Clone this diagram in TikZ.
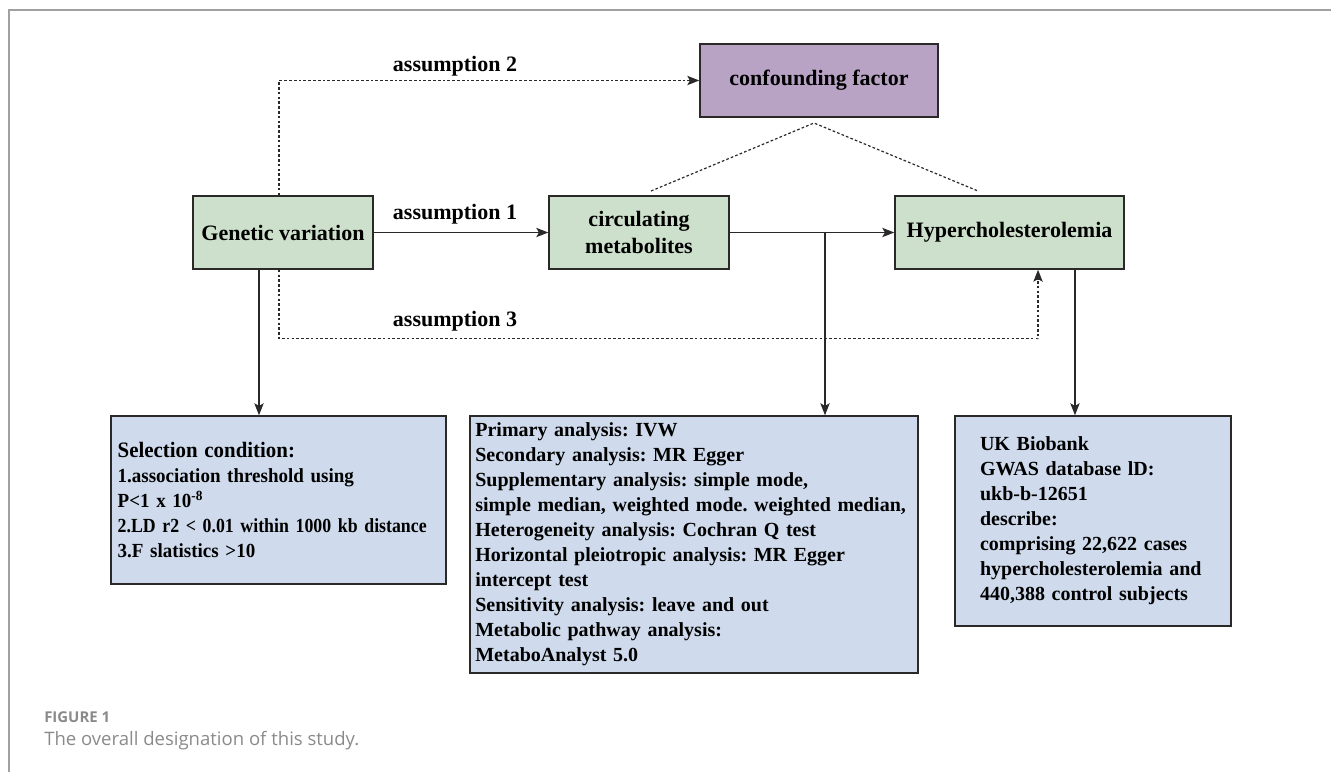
\documentclass[tikz,border=0pt]{standalone}
\usepackage{fontspec}
\setmainfont{Liberation Serif}
\newfontfamily\selfont{Liberation Serif}[FakeStretch=0.95]
\newfontfamily\narrowfont{Liberation Serif}[FakeStretch=0.89]
\newfontfamily\capfont{Open Sans}
\usetikzlibrary{arrows.meta,positioning}
\definecolor{nodegreen}{HTML}{CDE0CB}
\definecolor{nodeblue}{HTML}{CFDBEC}
\definecolor{nodepurple}{HTML}{B9A3C5}
\definecolor{linegray}{HTML}{2B2828}
\definecolor{framegray}{HTML}{A0A0A0}
\definecolor{capgray}{HTML}{8A8A8A}
\hyphenpenalty=10000
\frenchspacing

\begin{document}
\begin{tikzpicture}[x=0.75pt,y=-0.75pt,
      box/.style={draw=linegray,line width=1.1pt,align=center,
                  minimum height=54.75pt,
                  font=\fontsize{16.5pt}{20pt}\selectfont\bfseries},
      info/.style={draw=linegray,line width=1.1pt,fill=nodeblue,align=left,
                   font=\fontsize{15pt}{18.75pt}\selectfont\bfseries},
      lbl/.style={font=\fontsize{16.5pt}{20pt}\selectfont\bfseries},
      arr/.style={-{Stealth[length=9pt,width=7pt,inset=2pt]},line width=0.9pt,draw=linegray},
      dsh/.style={line width=0.9pt,draw=linegray,dash pattern=on 2pt off 1.6pt}
    ]
    \useasboundingbox (0,0) rectangle (1331,772);
    % Frame
    \draw[framegray,line width=1pt] (9,772) -- (9,10) -- (1331,10);
    % Causal chain
    \node[box, fill=nodegreen, minimum width=135pt] (gen) at (283,232.5) {Genetic variation};
    \node[box, fill=nodegreen, minimum width=135pt] (circ) at (639,232.5) {circulating\\metabolites};
    \node[box, fill=nodegreen, minimum width=171.75pt] (hyper) at (1009.5,232.5) {Hypercholesterolemia};
    \node[box, fill=nodepurple, minimum width=178.5pt] (conf) at (819,80.5) {confounding factor};
    % Detail boxes
    \node[info, minimum width=251.25pt, minimum height=126pt, inner xsep=5pt,
          text width=241.25pt, font=\selfont\fontsize{15pt}{18.75pt}\selectfont\bfseries] (sel) at (278.5,500)
      {{\fontsize{16.5pt}{20pt}\selectfont Selection condition:}\\
       1.association threshold using\\
       P<1 x 10\textsuperscript{-8}\\
       {\narrowfont 2.LD r2 < 0.01 within 1000 kb distance}\\
       3.F slatistics >10};
    \node[info, minimum width=336pt, minimum height=192.75pt, inner xsep=4pt,
          text width=328pt] (ana) at (694,544.5)
      {Primary analysis: IVW\\
       Secondary analysis: MR Egger\\
       Supplementary analysis: simple mode,\\
       simple median, weighted mode. weighted median,\\
       Heterogeneity analysis: Cochran Q test\\
       Horizontal pleiotropic analysis: MR Egger\\
       intercept test\\
       Sensitivity analysis: leave and out\\
       Metabolic pathway analysis:\\
       MetaboAnalyst 5.0};
    \node[info, minimum width=207pt, minimum height=157.5pt, inner xsep=18.75pt,
          text width=169.5pt] (ukb) at (1093,521)
      {UK Biobank\\
       GWAS database lD:\\
       ukb-b-12651\\
       describe:\\
       comprising 22,622 cases\\
       hypercholesterolemia and\\
       440,388 control subjects};
    % Assumptions
    \draw[arr] (gen) -- (circ);
    \draw[arr] (circ) -- (hyper);
    \draw[dsh,arr] ([xshift=-3pt]gen.north) |- (conf.west);
    \draw[dsh,arr] ([xshift=-3pt]gen.south) -- ++(0,69) -| ([xshift=21.4pt]hyper.south);
    \node[lbl] (a1) at (455,214) {assumption 1};
    \node[lbl] (a2) at (455,66) {assumption 2};
    \node[lbl] (a3) at (455,321) {assumption 3};
    % Confounding links
    \coordinate (cfb) at (814,123);
    \coordinate (cfl) at (651,191);
    \coordinate (cfr) at (978,191);
    \draw[dsh] (cfl) -- (cfb) -- (cfr);
    % Down arrows
    \coordinate (br) at (825,232.5);
    \draw[arr] ([xshift=-18pt]gen.south) -- ([xshift=-18pt]gen.south |- sel.north);
    \draw[arr] (br) -- (br |- ana.north);
    \draw[arr] ([xshift=49.1pt]hyper.south) -- ([xshift=49.1pt]hyper.south |- ukb.north);
    % Caption
    \node[anchor=base west, inner sep=0pt, text=capgray,
          font=\capfont\fontsize{11.2pt}{13pt}\selectfont\bfseries] (fig) at (44,722) {FIGURE 1};
    \node[anchor=base west, inner sep=0pt, text=capgray,
          font=\capfont\fontsize{13.9pt}{17pt}\selectfont] (cap) at (44,745) {The overall designation of this study.};
  \end{tikzpicture}
\end{document}
